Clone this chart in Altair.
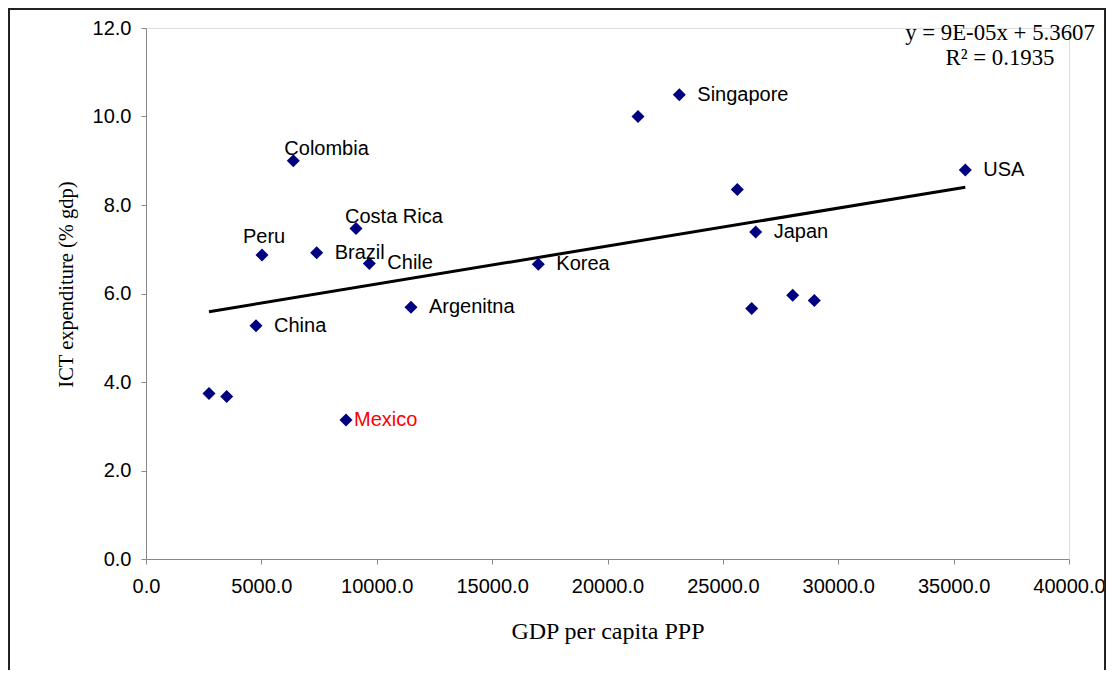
import altair as alt
import pandas as pd

# ---- data ----
countries = ["", "", "China", "Peru", "Colombia", "Brazil", "Mexico", "Costa Rica",
             "Chile", "Argenitna", "Korea", "", "Singapore", "", "Japan", "", "", "", "USA"]
gdp_ppp = [2730, 3497, 4767, 5027, 6384, 7397, 8667, 9101, 9678, 11484, 17001,
           21322, 23112, 25625, 26422, 26249, 28026, 28962, 35506]
ict_pct = [3.74, 3.67, 5.27, 6.87, 9.00, 6.92, 3.14, 7.47, 6.68, 5.69, 6.66,
           10.00, 10.49, 8.35, 7.39, 5.66, 5.96, 5.84, 8.79]
x_ticks = [0, 5000, 10000, 15000, 20000, 25000, 30000, 35000, 40000]
y_ticks = [0, 2, 4, 6, 8, 10, 12]
equation_lines = ["y = 9E-05x + 5.3607", "R² = 0.1935"]

df = pd.DataFrame({"country": countries, "gdp": gdp_ppp, "ict": ict_pct})

SANS = "Liberation Sans"
SERIF = "Liberation Serif"

xs = alt.Scale(domain=[0, 40000], nice=False)
ys = alt.Scale(domain=[0, 12], nice=False)

x_enc = alt.X("gdp:Q", scale=xs,
              axis=alt.Axis(values=x_ticks, format=".1f", title="GDP per capita PPP",
                            labelFont=SANS, labelFontSize=20, labelColor="black",
                            labelFlush=False, labelOverlap=False, labelPadding=12,
                            tickSize=5, grid=False,
                            titleFont=SERIF, titleFontSize=24, titleFontWeight="normal",
                            titleColor="black", titlePadding=23))
y_enc = alt.Y("ict:Q", scale=ys,
              axis=alt.Axis(values=y_ticks, format=".1f", title="ICT expenditure (% gdp)",
                            labelFont=SANS, labelFontSize=20, labelColor="black",
                            labelPadding=10, tickSize=5, grid=False,
                            titleFont=SERIF, titleFontSize=20.5, titleFontWeight="normal",
                            titleColor="black", titleAngle=270, titleX=-80, titleY=256,
                            titleAlign="center", titleBaseline="middle"))

base = alt.Chart(df)

points = base.mark_point(shape="diamond", filled=True, color="#000080",
                         size=170, opacity=1).encode(x=x_enc, y=y_enc)

trend = base.transform_regression("gdp", "ict").mark_line(
    color="black", strokeWidth=3).encode(x=x_enc, y=y_enc)

# label placement (dx, dy, baseline, colour) per label group
label_style = {
    "Singapore": (18, 0, "middle", "black"),
    "USA": (18, 0, "middle", "black"),
    "Japan": (18, 0, "middle", "black"),
    "Korea": (18, 0, "middle", "black"),
    "Argenitna": (18, 0, "middle", "black"),
    "China": (18, 0, "middle", "black"),
    "Brazil": (18, 0, "middle", "black"),
    "Chile": (18, 0, "middle", "black"),
    "Mexico": (8, 0, "middle", "red"),
    "Colombia": (-9, -6, "alphabetic", "black"),
    "Costa Rica": (-11, -5, "alphabetic", "black"),
    "Peru": (-19, -12, "alphabetic", "black"),
}

label_layers = []
for name, (dx, dy, bl, col) in label_style.items():
    label_layers.append(
        base.transform_filter(alt.datum.country == name).mark_text(
            font=SANS, fontSize=20, align="left", baseline=bl, dx=dx, dy=dy, color=col
        ).encode(x=x_enc, y=y_enc, text="country:N")
    )

eq_df = pd.DataFrame({"line": equation_lines})
eq_layers = []
for i, ypix in enumerate([5, 30]):
    eq_layers.append(
        alt.Chart(eq_df).transform_filter(alt.datum.line == equation_lines[i]).mark_text(
            font=SERIF, fontSize=22.8, align="center", baseline="middle", color="black"
        ).encode(x=alt.value(854), y=alt.value(ypix), text="line:N")
    )

frame = alt.Chart(alt.Data(values=[{"f": 1}])).mark_rect(
    fill=None, stroke="#222222", strokeWidth=2
).encode(x=alt.value(-137), x2=alt.value(959), y=alt.value(-19), y2=alt.value(700))

chart = alt.layer(frame, trend, points, *label_layers, *eq_layers).properties(
    width=923, height=531,
    padding={"left": 138, "top": 20, "right": 37, "bottom": 111},
    autosize="none",
).configure_view(stroke=None).configure_axis(
    domainColor="#404040", tickColor="#404040", domainWidth=1.2, tickWidth=1.2,
    grid=False
).configure(background="white")

chart.save("out.html", embed_options={"renderer": "svg", "actions": False})
